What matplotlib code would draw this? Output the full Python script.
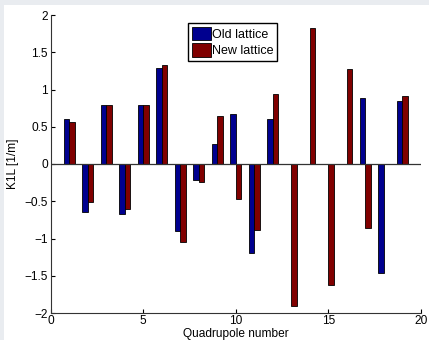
import numpy as np
import matplotlib
matplotlib.use("Agg")
import matplotlib.pyplot as plt
from matplotlib.patches import Rectangle

quad_number = np.arange(1, 20)
old_k1l = [0.60, -0.65, 0.79, -0.67, 0.79, 1.29, -0.90, -0.22, 0.27, 0.67,
           -1.20, 0.61, 0.005, 0.005, 0.005, 0.005, 0.88, -1.46, 0.84]
new_k1l = [0.56, -0.51, 0.79, -0.61, 0.79, 1.33, -1.05, -0.24, 0.65, -0.47,
           -0.88, 0.94, -1.91, 1.82, -1.62, 1.27, -0.86, 0.005, 0.91]
series_names = ["Old lattice", "New lattice"]
y_ticks = [-2, -1.5, -1, -0.5, 0, 0.5, 1, 1.5, 2]
y_tick_labels = ["\u22122", "\u22121.5", "\u22121", "\u22120.5", "0", "0.5", "1", "1.5", "2"]
x_ticks = [0, 5, 10, 15, 20]

plt.rcParams['font.family'] = ['Liberation Sans', 'DejaVu Sans']
plt.rcParams['font.size'] = 8.6

fig = plt.figure(figsize=(4.29, 3.40), dpi=100)
fig.patch.set_facecolor('#e9ecf0')
# white page area (screenshot frame is grey on top and left)
fig.patches.append(Rectangle((4 / 429, 0), 1, 1 - 5 / 340, transform=fig.transFigure,
                             facecolor='white', edgecolor='none', zorder=-10))

ax = fig.add_axes([50.7 / 429, 27 / 340, 370 / 429, 298 / 340])
ax.set_facecolor('none')
ax.set_zorder(1)

w = 0.3
ax.bar(quad_number - w / 2, old_k1l, width=w, color='#00008f', edgecolor='black',
       linewidth=0.6, label=series_names[0], zorder=2)
ax.bar(quad_number + w / 2, new_k1l, width=w, color='#800000', edgecolor='black',
       linewidth=0.6, label=series_names[1], zorder=2)
ax.axhline(0, color='#333333', lw=0.9, zorder=3)

ax.set_xlim(0, 20)
ax.set_ylim(-2, 2)
ax.set_xticks(x_ticks)
ax.set_yticks(y_ticks)
ax.set_yticklabels(y_tick_labels)
ax.tick_params(direction='in', length=3, width=0.8, colors='black')
ax.tick_params(axis='y', pad=2)
ax.tick_params(axis='x', pad=1.5)

for side in ['top', 'right']:
    ax.spines[side].set_visible(False)
for side in ['left', 'bottom']:
    ax.spines[side].set_linewidth(0.8)
    ax.spines[side].set_color('#333333')

ax.set_xlabel("Quadrupole number", va='center')
ax.xaxis.set_label_coords(0.5, -0.069)
ax.set_ylabel("K1L [1/m]", labelpad=4)

leg = ax.legend(loc='upper center', bbox_to_anchor=(0.492, 0.972), fancybox=False,
                framealpha=1, edgecolor='black', fontsize=9, handlelength=1.5,
                handleheight=1.3, handletextpad=0.1, labelspacing=0.2,
                borderpad=0.28, borderaxespad=0)
leg.get_frame().set_linewidth(1.0)

fig.savefig("out.png", dpi=100, facecolor=fig.get_facecolor())
